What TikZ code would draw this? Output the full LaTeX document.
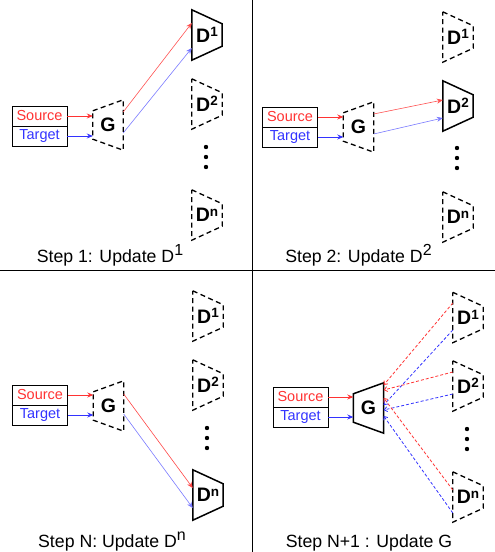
\documentclass[tikz,border=0pt]{standalone}
\usepackage{fontspec}
\setmainfont{Liberation Sans}
\usetikzlibrary{arrows.meta,calc}
\definecolor{srcRed}{HTML}{FF3333}
\definecolor{tgtBlue}{HTML}{3333FF}
\tikzset{
    % input boxes and network labels
    inbox/.style={rectangle,draw=black,line width=0.9pt,minimum width=55pt,minimum height=20pt,inner sep=0pt,font=\fontsize{14.5}{16}\selectfont},
    netbox/.style={rectangle,inner sep=0pt,minimum width=30pt,minimum height=50pt,font=\fontsize{19.5}{20}\selectfont\bfseries},
    steptext/.style={anchor=base,inner sep=0pt,font=\fontsize{17.7}{20}\selectfont},
    % outlines: trained vs. frozen network
    active/.style={line width=1.5pt,line join=miter},
    frozen/.style={line width=1.3pt,dash pattern=on 5pt off 3.5pt},
    % flows
    feed/.style={-{Stealth[length=6pt,width=5pt]},line width=0.8pt},
    fwd/.style={-{Stealth[length=6pt,width=5pt]},line width=0.6pt},
    grad/.style={-{Straight Barb[length=3pt,width=5pt]},line width=0.8pt,dash pattern=on 3pt off 2pt}
}
% superscripts in network names and step captions
\newcommand{\dlab}[1]{D\raisebox{5.5pt}{\fontsize{13.5}{13.5}\selectfont #1}}
\newcommand{\capsup}[1]{\raisebox{6.5pt}{\fontsize{16}{16}\selectfont #1}}
% trapezoid outlines round a netbox node
\newcommand{\genshape}[2]{\draw[#2] ([yshift=-11pt]#1.north west) -- (#1.north east) -- (#1.south east) -- ([yshift=11pt]#1.south west) -- cycle;}
\newcommand{\discshape}[2]{\draw[#2] (#1.north west) -- ([yshift=-14pt]#1.north east) -- ([yshift=14pt]#1.south east) -- (#1.south west) -- cycle;}

\begin{document}
\begin{tikzpicture}[x=1pt,y=-1pt]
    \useasboundingbox (0,0) rectangle (495,552);

    % panel dividers
    \draw[line width=1pt] (252.5,0) -- (252.5,552);
    \draw[line width=1pt] (0,270) -- (495,270);

    % Step 1: update D1
    \node[inbox,text=srcRed] (src1) at (39.5,116) {Source};
    \node[inbox,text=tgtBlue] (tgt1) at (39.5,136) {Target};
    \node[netbox] (gen1) at (108,125) {G};
    \node[netbox] (d1a) at (207,35) {\dlab{1}};
    \node[netbox] (d1b) at (207,104) {\dlab{2}};
    \node[netbox] (d1n) at (207,215) {\dlab{n}};
    \node[steptext] (cap1) at (110,262) {Step 1: Update D\capsup{1}};

    % Step 2: update D2
    \node[inbox,text=srcRed] (src2) at (290,117) {Source};
    \node[inbox,text=tgtBlue] (tgt2) at (290,137) {Target};
    \node[netbox] (gen2) at (358.5,127) {G};
    \node[netbox] (d2a) at (458,37) {\dlab{1}};
    \node[netbox] (d2b) at (458,106) {\dlab{2}};
    \node[netbox] (d2n) at (458,217) {\dlab{n}};
    \node[steptext] (cap2) at (358.5,262) {Step 2: Update D\capsup{2}};

    % Step N: update Dn
    \node[inbox,text=srcRed] (src3) at (40,395) {Source};
    \node[inbox,text=tgtBlue] (tgt3) at (40,415) {Target};
    \node[netbox] (gen3) at (108.5,406) {G};
    \node[netbox] (d3a) at (208,316) {\dlab{1}};
    \node[netbox] (d3b) at (208,385) {\dlab{2}};
    \node[netbox] (d3n) at (208,495) {\dlab{n}};
    \node[steptext] (cap3) at (112,547) {Step N: Update D\capsup{n}};

    % Step N+1: update G
    \node[inbox,text=srcRed] (src4) at (300.5,397) {Source};
    \node[inbox,text=tgtBlue] (tgt4) at (300.5,417) {Target};
    \node[netbox] (gen4) at (368.5,408) {G};
    \node[netbox] (d4a) at (468,317.5) {\dlab{1}};
    \node[netbox] (d4b) at (468,386) {\dlab{2}};
    \node[netbox] (d4n) at (468,497) {\dlab{n}};
    \node[steptext] (cap4) at (369,547) {Step N+1 : Update G};

    % outlines
    \foreach \n in {gen1,gen2,gen3} \genshape{\n}{frozen};
    \genshape{gen4}{active};
    \foreach \n in {d1b,d1n,d2a,d2n,d3a,d3b,d4a,d4b,d4n} \discshape{\n}{frozen};
    \foreach \n in {d1a,d2b,d3n} \discshape{\n}{active};

    % vertical dots
    \foreach \x/\y in {206/147,457/148,207/428,467/429}
        \foreach \k in {0,1,2}
            \fill (\x,\y+\k*10) circle (2.2);

    % inputs into G
    \foreach \i in {1,2,3,4} {
        \draw[feed,srcRed] (src\i.east) -- (src\i.east -| gen\i.west);
        \draw[feed,tgtBlue] (tgt\i.east) -- (tgt\i.east -| gen\i.west);
    }

    % G to the discriminator being trained
    \draw[fwd,srcRed!85] ([yshift=13pt]gen1.east) -- ([yshift=12pt]d1a.west);
    \draw[fwd,tgtBlue!65] ([yshift=-8pt]gen1.east) -- ([yshift=-13pt]d1a.west);
    \draw[fwd,srcRed!85] ([yshift=13pt]gen2.east) -- ([yshift=6pt]d2b.west);
    \draw[fwd,tgtBlue!65] ([yshift=-7pt]gen2.east) -- ([yshift=-12pt]d2b.west);
    \draw[fwd,srcRed!90] ([yshift=12pt]gen3.east) -- ([yshift=7pt]d3n.west);
    \draw[fwd,tgtBlue!65] ([yshift=-8pt]gen3.east) -- ([yshift=-13pt]d3n.west);

    % all discriminators back to G
    \draw[grad,srcRed] ([yshift=14.5pt]d4a.west) -- ([yshift=23pt]gen4.east);
    \draw[grad,tgtBlue] ([yshift=-12.5pt]d4a.west) -- ([yshift=3pt]gen4.east);
    \draw[grad,srcRed] ([yshift=14pt]d4b.west) -- ([yshift=18pt]gen4.east);
    \draw[grad,tgtBlue] ([yshift=-8pt]d4b.west) -- ([yshift=-2pt]gen4.east);
    \draw[grad,srcRed] ([yshift=7pt]d4n.west) -- ([yshift=10pt]gen4.east);
    \draw[grad,tgtBlue] ([yshift=-16pt]d4n.west) -- ([yshift=-8pt]gen4.east);
\end{tikzpicture}
\end{document}
